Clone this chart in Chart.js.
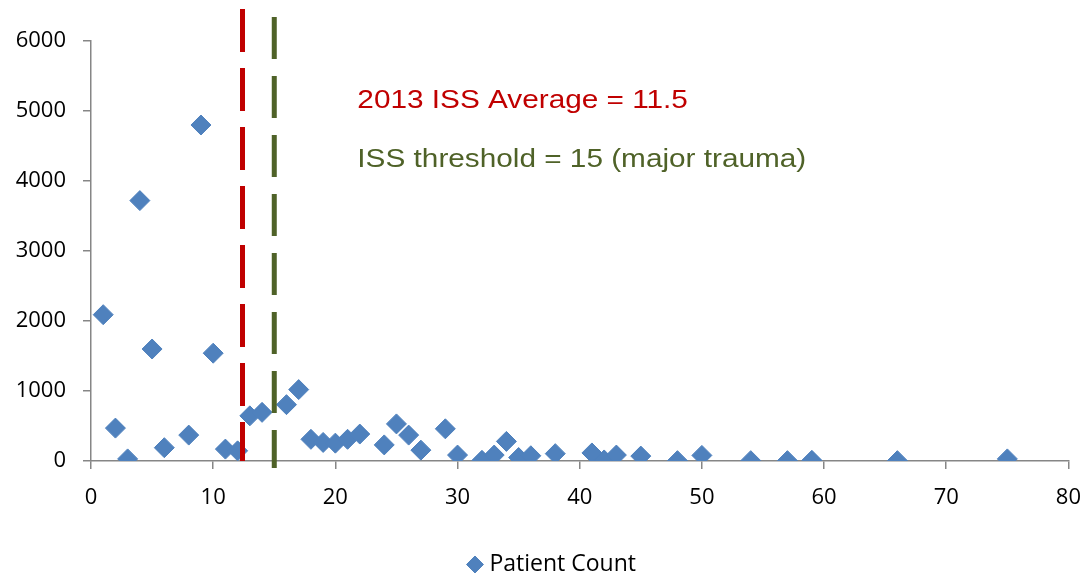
<!DOCTYPE html>
<html>
<head>
<meta charset="utf-8">
<script src="https://cdn.jsdelivr.net/npm/chart.js@4"></script>
<style>
  html, body { margin: 0; padding: 0; background: #fff; overflow: hidden; }
  #wrap { width: 1086px; height: 586px; position: relative; }
</style>
</head>
<body>
<div id="wrap"><canvas id="issChart"></canvas></div>
<script>
// ISS score vs number of patients
var issScores = [1, 2, 3, 4, 5, 6, 8, 9, 10, 11, 12, 13, 14, 16, 17, 18, 19, 20, 21, 22,
                 24, 25, 26, 27, 29, 30, 32, 33, 34, 35, 36, 38, 41, 42, 43, 45, 48, 50,
                 54, 57, 59, 66, 75];
var patientCounts = [2090, 470, 30, 3720, 1600, 190, 370, 4800, 1540, 170, 145, 645, 695, 805, 1020, 310, 265, 255, 310, 385,
                     230, 530, 370, 155, 460, 85, 10, 85, 280, 50, 75, 105, 115, 15, 85, 70, 5, 80,
                     5, 5, 10, 5, 30];

var averageIss = 12.4;      // where the red marker line sits on the axis
var averageY = [6457, 0];
var thresholdIss = 15;
var thresholdY = [6343, -100];

var xTicks = [0, 80, 10];   // min, max, step
var yTicks = [0, 6000, 1000];

var notes = [
  { text: '2013 ISS Average = 11.5', x: 21.8, y: 5143, color: '#C00000' },
  { text: 'ISS threshold = 15 (major trauma)', x: 21.8, y: 4300, color: '#4F6228' }
];

var points = issScores.map(function (s, i) { return { x: s, y: patientCounts[i] }; });

var noteLabels = {
  id: 'noteLabels',
  afterLayout: function (chart) {
    // legend sits a little right of centre in the original
    chart.legend.left += 12;
    chart.legend.right += 12;
  },
  afterDatasetsDraw: function (chart) {
    var ctx = chart.ctx;
    var xs = chart.scales.x, ys = chart.scales.y;
    notes.forEach(function (n) {
      ctx.save();
      ctx.font = '25px "Liberation Sans", Arial, sans-serif';
      ctx.fillStyle = n.color;
      ctx.textBaseline = 'middle';
      ctx.translate(xs.getPixelForValue(n.x), ys.getPixelForValue(n.y));
      ctx.scale(1.19, 1);
      ctx.fillText(n.text, 0, 0);
      ctx.restore();
    });
  }
};

var axisGrey = '#868686';

new Chart(document.getElementById('issChart').getContext('2d'), {
  type: 'scatter',
  data: {
    datasets: [{
      label: 'Patient Count',
      data: points,
      pointStyle: 'rectRot',
      pointRadius: 10,
      pointHoverRadius: 10,
      backgroundColor: '#4F81BD',
      borderColor: '#4F81BD',
      borderWidth: 1,
      order: 1
    }, {
      label: 'average',
      data: averageY.map(function (v) { return { x: averageIss, y: v }; }),
      showLine: true,
      pointRadius: 0,
      borderColor: '#C00000',
      borderWidth: 5,
      borderDash: [43, 16],
      clip: false,
      order: 0
    }, {
      label: 'threshold',
      data: thresholdY.map(function (v) { return { x: thresholdIss, y: v }; }),
      showLine: true,
      pointRadius: 0,
      borderColor: '#4F6228',
      borderWidth: 5,
      borderDash: [42, 17],
      clip: false,
      order: 0
    }]
  },
  options: {
    responsive: true,
    maintainAspectRatio: false,
    animation: false,
    layout: { autoPadding: false, padding: { top: 41, right: 2, left: 0, bottom: 0 } },
    plugins: {
      tooltip: { enabled: false },
      legend: {
        position: 'bottom',
        labels: {
          usePointStyle: true,
          boxHeight: 12,
          boxWidth: 6,
          padding: 3,
          color: '#000',
          font: { family: '"Open Sans", sans-serif', size: 23 },
          filter: function (item) { return item.text === 'Patient Count'; }
        }
      }
    },
    scales: {
      x: {
        type: 'linear',
        min: xTicks[0],
        max: xTicks[1],
        afterFit: function (s) { s.height = 89; },
        ticks: {
          stepSize: xTicks[2],
          color: '#000',
          padding: 5,
          font: { family: '"Open Sans", sans-serif', size: 22, lineHeight: 2.2 }
        },
        grid: { display: true, drawOnChartArea: false, drawTicks: true, tickLength: 8, color: axisGrey, lineWidth: 1.5 },
        border: { display: true, color: axisGrey, width: 1.5 }
      },
      y: {
        min: yTicks[0],
        max: yTicks[1],
        afterFit: function (s) { s.width = 91; },
        ticks: {
          stepSize: yTicks[2],
          color: '#000',
          padding: 17,
          font: { family: '"Open Sans", sans-serif', size: 22 },
          callback: function (v) { return String(v); }
        },
        grid: { display: true, drawOnChartArea: false, drawTicks: true, tickLength: 8, color: axisGrey, lineWidth: 1.5 },
        border: { display: true, color: axisGrey, width: 1.5 }
      }
    }
  },
  plugins: [noteLabels]
});
</script>
</body>
</html>
